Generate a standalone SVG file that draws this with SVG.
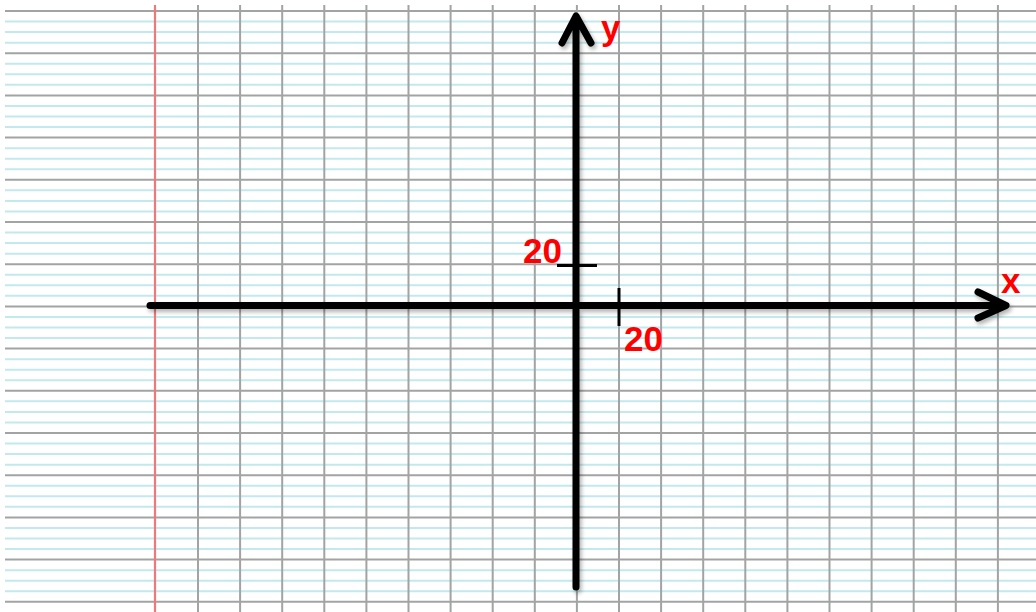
<svg xmlns="http://www.w3.org/2000/svg" width="1036" height="612" viewBox="0 0 1036 612">
<defs>
<style>
.light{stroke:#c2eaee;stroke-width:2;fill:none}
.dark{stroke:#a2a4a4;stroke-width:2;fill:none}
.margin{stroke:#f07878;stroke-width:2.2;fill:none}
.axis{stroke:#000;stroke-width:7;fill:none;stroke-linecap:round;stroke-linejoin:round}
.tick{stroke:#000;stroke-width:3;fill:none}
.lbl{fill:#ff0000;font-family:"Liberation Sans",Arial,sans-serif;font-weight:bold}
</style>
<filter id="sh" x="-10%" y="-10%" width="120%" height="120%">
<feDropShadow dx="2" dy="3" stdDeviation="2" flood-color="#000" flood-opacity="0.3"/>
</filter>
</defs>
<rect width="1036" height="612" fill="#fff"/>
<g id="paper">
<path class="light" d="M5 21.55H1036M5 32.1H1036M5 42.65H1036M5 63.75H1036M5 74.3H1036M5 84.85H1036M5 105.95H1036M5 116.5H1036M5 127.05H1036M5 148.15H1036M5 158.7H1036M5 169.25H1036M5 190.35H1036M5 200.9H1036M5 211.45H1036M5 232.55H1036M5 243.1H1036M5 253.65H1036M5 274.75H1036M5 285.3H1036M5 295.85H1036M5 316.95H1036M5 327.5H1036M5 338.05H1036M5 359.15H1036M5 369.7H1036M5 380.25H1036M5 401.35H1036M5 411.9H1036M5 422.45H1036M5 443.55H1036M5 454.1H1036M5 464.65H1036M5 485.75H1036M5 496.3H1036M5 506.85H1036M5 527.95H1036M5 538.5H1036M5 549.05H1036M5 570.15H1036M5 580.7H1036M5 591.25H1036"/>
<path class="dark" d="M5 11H1036M5 53.2H1036M5 95.4H1036M5 137.6H1036M5 179.8H1036M5 222H1036M5 264.2H1036M5 306.4H1036M5 348.6H1036M5 390.8H1036M5 433H1036M5 475.2H1036M5 517.4H1036M5 559.6H1036M5 601.8H1036"/>
<path class="dark" d="M198 5V612M240.1 5V612M282.2 5V612M324.3 5V612M366.4 5V612M408.5 5V612M450.6 5V612M492.7 5V612M534.8 5V612M576.9 5V612M619 5V612M661.1 5V612M703.2 5V612M745.3 5V612M787.4 5V612M829.5 5V612M871.6 5V612M913.7 5V612M955.8 5V612M997.9 5V612"/>
<path class="margin" d="M155 5V612"/>
</g>
<g id="connectors" filter="url(#sh)">
<path id="x-axis" class="axis" stroke-linecap="butt" d="M150 305.5H1003"/>
<path id="x-head" class="axis" d="M978 292L1006 305.5L978 318"/>
<path id="y-axis" class="axis" d="M576 587V18M562 43L576 16L591 43"/>
</g>
<g id="ticks">
<path class="tick" d="M557 265.5H597"/>
<path class="tick" d="M619 288V326"/>
</g>
<g id="labels">
<text class="lbl" x="523" y="263" font-size="35">20</text>
<text class="lbl" x="624" y="351" font-size="35">20</text>
<text class="lbl" x="601" y="40" font-size="35">y</text>
<text class="lbl" x="1001" y="293" font-size="35">x</text>
</g>
</svg>
